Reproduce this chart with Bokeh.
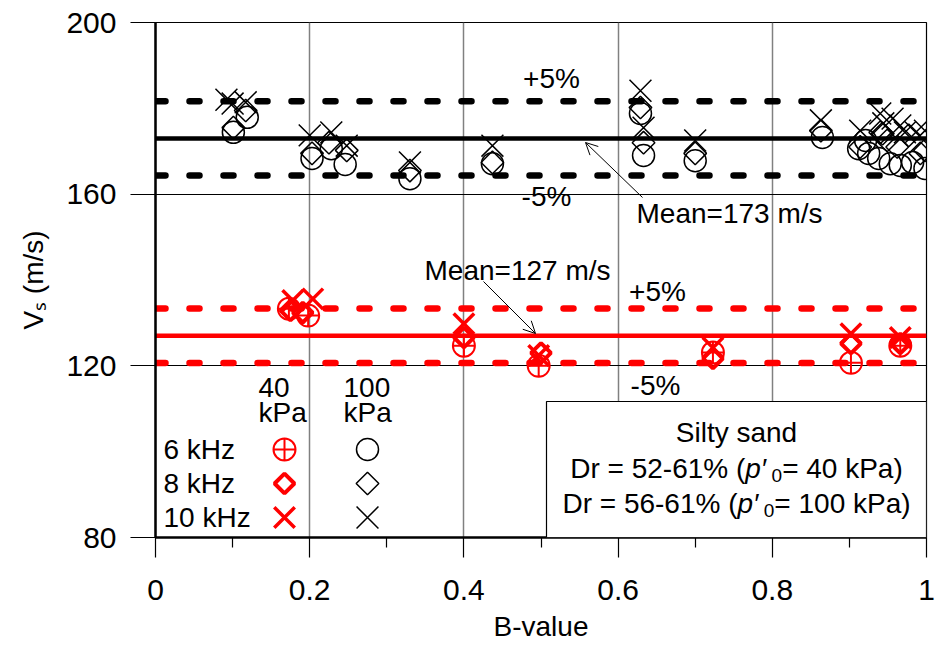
import numpy as np
from bokeh.plotting import figure
from bokeh.models import FixedTicker, Label, Arrow, OpenHead, BoxAnnotation
from bokeh.embed import file_html
from bokeh.resources import INLINE

# ---------------- data ----------------
# p'0 = 100 kPa (black)
b100_6kHz = [0.101, 0.119, 0.203, 0.228, 0.246, 0.330, 0.437, 0.629, 0.633, 0.700, 0.865,
             0.912, 0.921, 0.925, 0.938, 0.953, 0.966, 0.982, 0.998]
vs100_6kHz = [174.4, 177.9, 168.3, 170.6, 166.9, 163.6, 167.1, 178.8, 169.0, 167.8, 173.2,
              170.6, 172.5, 169.5, 168.3, 167.1, 166.7, 167.4, 166.0]
b100_8kHz = [0.101, 0.117, 0.203, 0.225, 0.248, 0.330, 0.437, 0.629, 0.633, 0.700, 0.863,
             0.914, 0.940, 0.943, 0.949, 0.962, 0.977, 0.992, 0.998]
vs100_8kHz = [175.5, 179.5, 169.5, 172.0, 170.2, 165.5, 167.4, 180.2, 172.0, 169.5, 174.8,
              171.0, 174.4, 174.1, 172.5, 171.0, 173.7, 169.5, 170.2]
b100_10kHz = [0.092, 0.100, 0.117, 0.200, 0.228, 0.248, 0.330, 0.437, 0.629, 0.633, 0.700, 0.863,
              0.914, 0.940, 0.944, 0.956, 0.966, 0.972, 0.986, 0.998]
vs100_10kHz = [182.0, 181.1, 181.4, 173.7, 174.4, 171.3, 167.4, 171.3, 184.1, 175.5, 172.5, 177.2,
               174.8, 178.8, 176.5, 177.6, 176.0, 174.4, 174.4, 174.8]

# p'0 = 40 kPa (red)
b40_6kHz = [0.173, 0.198, 0.400, 0.497, 0.723, 0.902, 0.966]
vs40_6kHz = [133.3, 131.7, 124.7, 120.0, 123.1, 120.7, 124.7]
b40_8kHz = [0.175, 0.191, 0.400, 0.500, 0.723, 0.902, 0.966]
vs40_8kHz = [132.9, 132.4, 126.6, 123.0, 121.7, 125.2, 125.2]
b40_10kHz = [0.178, 0.204, 0.400, 0.497, 0.723, 0.902, 0.966]
vs40_10kHz = [135.2, 135.6, 129.8, 122.4, 124.2, 127.5, 126.6]

mean_vs = [173, 127]          # black, red
mean_colors = ["black", "red"]
tolerance = 0.05

x_ticks = [0, 0.2, 0.4, 0.6, 0.8, 1.0]
x_tick_labels = ["0", "0.2", "0.4", "0.6", "0.8", "1"]
x_minor_ticks = [0.1, 0.3, 0.5, 0.7, 0.9]
y_ticks = [80, 120, 160, 200]
y_tick_labels = ["80", "120", "160", "200"]

FONT = "Liberation Sans"
FS = 28

# ---------------- figure ----------------
FL, FR, FT, FB = 155, 926, 22, 537   # frame pixel edges
W, H = 943, 646
X0, X1, Y0, Y1 = 0, 1, 80, 200

def px2x(px):
    return X0 + (px - FL) * (X1 - X0) / (FR - FL)

def py2y(py):
    return Y1 - (py - FT) * (Y1 - Y0) / (FB - FT)

p = figure(width=W, height=H, x_range=(X0, X1), y_range=(Y0, Y1),
           output_backend="svg", toolbar_location=None,
           min_border_left=FL, min_border_right=W - FR,
           min_border_top=FT, min_border_bottom=H - FB)
p.background_fill_color = "white"
p.border_fill_color = "white"
p.outline_line_color = "black"
p.outline_line_width = 1.2

# axes
p.xaxis.ticker = FixedTicker(ticks=x_ticks, minor_ticks=x_minor_ticks)
p.xaxis.major_label_overrides = {t: l for t, l in zip(x_ticks, x_tick_labels)}
p.xaxis.major_tick_out = 20
p.xaxis.major_tick_in = 0
p.xaxis.minor_tick_out = 10
p.xaxis.minor_tick_in = 0
p.xaxis.major_label_standoff = 22
p.xaxis.major_label_text_font = FONT
p.xaxis.major_label_text_font_size = "30px"
p.xaxis.major_label_text_color = "black"
p.xaxis.axis_label = "B-value"
p.xaxis.axis_label_text_font = FONT
p.xaxis.axis_label_text_font_size = "28px"
p.xaxis.axis_label_text_font_style = "normal"
p.xaxis.axis_label_text_color = "black"
p.xaxis.axis_label_standoff = 8
p.xaxis.axis_line_width = 2.5
p.xaxis.major_tick_line_width = 1.2
p.xaxis.minor_tick_line_width = 1.2

p.yaxis.ticker = FixedTicker(ticks=y_ticks, minor_ticks=[])
p.yaxis.major_label_overrides = {t: l for t, l in zip(y_ticks, y_tick_labels)}
p.yaxis.major_tick_out = 25
p.yaxis.major_tick_in = 0
p.yaxis.minor_tick_out = 0
p.yaxis.major_label_standoff = 14
p.yaxis.major_label_text_font = FONT
p.yaxis.major_label_text_font_size = "30px"
p.yaxis.major_label_text_color = "black"
p.yaxis.axis_line_width = 2.5
p.yaxis.major_tick_line_width = 1.2
p.yaxis.axis_label = "V\u209b (m/s)"
p.yaxis.axis_label_text_font = FONT
p.yaxis.axis_label_text_font_size = "28px"
p.yaxis.axis_label_text_font_style = "normal"
p.yaxis.axis_label_text_color = "black"
p.yaxis.axis_label_standoff = 14

# grids
p.xgrid.ticker = FixedTicker(ticks=[0.2, 0.4, 0.6, 0.8, 1.0])
p.xgrid.grid_line_color = "#808080"
p.xgrid.grid_line_width = 1.5
p.xgrid.grid_line_alpha = 1
p.ygrid.ticker = FixedTicker(ticks=[120, 160])
p.ygrid.grid_line_color = "black"
p.ygrid.grid_line_width = 1
p.ygrid.grid_line_alpha = 1

# mean and +/-5% lines
for m, c in zip(mean_vs, mean_colors):
    p.line([X0, X1], [m, m], line_color=c, line_width=4.5)
    for f in (1 + tolerance, 1 - tolerance):
        p.line([X0, X1], [m * f, m * f], line_color=c, line_width=6.5,
               line_dash="10 24", line_cap="round")

# markers
BLK = dict(line_color="black", fill_color=None, line_width=1.5)
RX = dict(marker="x", size=29, line_color="red", line_width=3.5)
RD = dict(marker="square", angle=np.pi / 4, size=14, line_color="red", fill_color=None, line_width=4)
RC = dict(marker="circle_cross", size=22, line_color="red", fill_color=None, line_width=2)
p.scatter(b100_6kHz, vs100_6kHz, marker="circle", size=22, **BLK)
p.scatter(b100_8kHz, vs100_8kHz, marker="square", angle=np.pi / 4, size=16, **BLK)
p.scatter(b100_10kHz, vs100_10kHz, marker="x", size=31, **BLK)

p.scatter(b40_6kHz, vs40_6kHz, **RC)
p.scatter(b40_8kHz, vs40_8kHz, **RD)
p.scatter(b40_10kHz, vs40_10kHz, **RX)

# ---------------- annotations ----------------
def lab(x, y, text, size=FS, align="center", baseline="middle", style="normal",
        angle=0, color="black"):
    p.add_layout(Label(x=x, y=y, text=text, text_font=FONT, text_font_size=f"{size}px",
                       text_align=align, text_baseline=baseline, text_font_style=style,
                       angle=angle, text_color=color))

# +/-5% labels
lab(px2x(551), py2y(78), "+5%")
lab(px2x(546), py2y(196), "-5%")
lab(px2x(657), py2y(291), "+5%")
lab(px2x(655), py2y(385), "-5%")

# mean labels and arrows
lab(px2x(729), py2y(213), "Mean=173 m/s")
p.add_layout(Arrow(x_start=px2x(642), y_start=py2y(197), x_end=px2x(585), y_end=py2y(142),
                   line_width=1, line_color="black",
                   end=OpenHead(size=12, line_width=1, line_color="black")))
lab(px2x(517), py2y(270), "Mean=127 m/s")
p.add_layout(Arrow(x_start=px2x(483), y_start=py2y(281), x_end=px2x(535), y_end=py2y(333),
                   line_width=1, line_color="black",
                   end=OpenHead(size=12, line_width=1, line_color="black")))

# manual legend
legend_freqs = ["6 kHz", "8 kHz", "10 kHz"]
lab(px2x(258), py2y(387), "40", align="left")
lab(px2x(258), py2y(412), "kPa", align="left")
lab(px2x(343), py2y(387), "100", align="left")
lab(px2x(343), py2y(412), "kPa", align="left")
leg_rows = [py2y(449), py2y(483), py2y(517)]
for txt, yy in zip(legend_freqs, leg_rows):
    lab(px2x(163), yy, txt, align="left")
xr, xb = px2x(284), px2x(367)
p.scatter([xr], [leg_rows[0]], **RC)
p.scatter([xr], [leg_rows[1]], **RD)
p.scatter([xr], [leg_rows[2]], **RX)
p.scatter([xb], [leg_rows[0]], marker="circle", size=22, **BLK)
p.scatter([xb], [leg_rows[1]], marker="square", angle=np.pi / 4, size=16, **BLK)
p.scatter([xb], [leg_rows[2]], marker="x", size=31, **BLK)

# info box
p.add_layout(BoxAnnotation(left=px2x(546), right=X1, bottom=Y0, top=py2y(401),
                           fill_color="white", fill_alpha=1, line_color="black",
                           line_width=1.2, line_alpha=1))

AW = {' ': .278, '(': .333, ')': .333, '%': .889, '-': .333, '=': .584, 'D': .722, 'r': .333,
      'k': .5, 'P': .667, 'a': .556, 'p': .556, 'S': .667, 'i': .222, 'l': .222, 't': .278,
      'y': .5, 's': .5, 'n': .556, 'd': .556, '′': .24}

def tw(s, size):
    return sum(AW.get(ch, .556) for ch in s) * size

box_cx = (546 + FR) / 2
lab(px2x(box_cx), py2y(432), "Silty sand")

def info_line(cy, pres):
    sub = 19
    pieces = [("Dr = " + pres[0] + " (", FS, "normal", 0),
              ("p′", FS, "italic", 0),
              ("0", sub, "normal", 7),
              ("= " + pres[1] + " kPa)", FS, "normal", 0)]
    total = sum(tw(t, s) for t, s, _, _ in pieces) + 4
    x = box_cx - total / 2
    for t, s, st, dy in pieces:
        lab(px2x(x), py2y(cy + dy), t, size=s, align="left", style=st)
        x += tw(t, s) + (4 if t == "p′" else 0)

info_line(468, ("52-61%", "40"))
info_line(503, ("56-61%", "100"))

open("out.html", "w").write(file_html(p, INLINE))
